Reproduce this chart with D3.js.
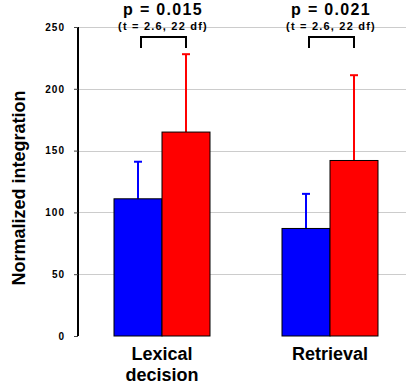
<!DOCTYPE html>
<html><head><meta charset="utf-8">
<script src="https://cdn.jsdelivr.net/npm/d3@7"></script>
<style>body{margin:0;background:#fff}svg{display:block}text{font-family:"Liberation Sans",Arial,sans-serif;font-weight:bold;fill:#000}</style>
</head><body><svg id="c" width="406" height="385"></svg>
<script>
const categories = [["Lexical","decision"],["Retrieval"]];
const seriesNames = ["Condition A","Condition B"];
const seriesColors = ["#0000ff","#ff0000"];
const meansA = [111, 87];
const meansB = [165, 142];
const errA = [30, 28];
const errB = [63, 69];
const yTicks = [0, 50, 100, 150, 200, 250];
const pLabels = ["p = 0.015", "p = 0.021"];
const tLabels = ["(t = 2.6, 22 df)", "(t = 2.6, 22 df)"];
const yTitle = "Normalized integration";

const svg = d3.select("#c");
const W = 406, H = 385;
const x = d3.scaleBand().domain(d3.range(categories.length)).range([78, 414]).paddingInner(0.4286).paddingOuter(0.2143);
const xs = d3.scaleBand().domain([0,1]).range([0, x.bandwidth()]);
const y = d3.scaleLinear().domain([0, 250]).range([336, 27]);

// gridlines
svg.append("g").selectAll("line").data(yTicks.filter(d => d > 0)).join("line")
  .attr("x1", 78).attr("x2", W).attr("y1", d => Math.round(y(d)) + 0.5).attr("y2", d => Math.round(y(d)) + 0.5)
  .attr("stroke", "#cccccc").attr("stroke-width", 1);

// y axis
const yAxis = d3.axisLeft(y).tickValues(yTicks).tickSize(4).tickPadding(9);
const ga = svg.append("g").attr("transform", "translate(78,0)").call(yAxis);
ga.select(".domain").attr("stroke", "#000").attr("stroke-width", 2).attr("d", `M0,${y(250)}V${y(0)}`);
ga.selectAll(".tick line").attr("stroke", "#444");
ga.selectAll(".tick text").style("font-size", "10px").style("letter-spacing", "1px").attr("fill", "#000");

svg.append("text").attr("transform", "translate(25,188) rotate(-90)").attr("text-anchor", "middle")
  .style("font-size", "18px").text(yTitle);

const series = [meansA, meansB];
const errs = [errA, errB];
categories.forEach((cat, i) => {
  const g = svg.append("g").attr("transform", `translate(${x(i)},0)`);
  series.forEach((vals, s) => {
    const cx = xs(s) + xs.bandwidth() / 2;
    g.append("line").attr("x1", cx).attr("x2", cx).attr("y1", y(vals[i])).attr("y2", y(vals[i] + errs[s][i]))
      .attr("stroke", seriesColors[s]).attr("stroke-width", 2);
    g.append("line").attr("x1", cx - 4).attr("x2", cx + 4).attr("y1", y(vals[i] + errs[s][i])).attr("y2", y(vals[i] + errs[s][i]))
      .attr("stroke", seriesColors[s]).attr("stroke-width", 2);
  });
  series.forEach((vals, s) => {
    g.append("rect").attr("x", xs(s)).attr("width", xs.bandwidth())
      .attr("y", y(vals[i])).attr("height", y(0) - y(vals[i]))
      .attr("fill", seriesColors[s]).attr("stroke", "#000").attr("stroke-width", 1);
  });
  // bracket
  const bx1 = xs(0) + xs.bandwidth() / 2 + 3, bx2 = xs(1) + xs.bandwidth() / 2;
  g.append("path").attr("d", `M${bx1},${y(233)}V${y(242)}H${bx2}V${y(233)}`)
    .attr("fill", "none").attr("stroke", "#000").attr("stroke-width", 2);
  const cx = x.bandwidth() / 2 + 1;
  g.append("text").attr("x", cx).attr("y", 15).attr("text-anchor", "middle")
    .style("font-size", "16px").style("letter-spacing", "1.3px").text(pLabels[i]);
  g.append("text").attr("x", cx).attr("y", 30).attr("text-anchor", "middle")
    .style("font-size", "11px").style("letter-spacing", "1.2px").text(tLabels[i]);
  cat.forEach((line, k) => {
    g.append("text").attr("x", x.bandwidth() / 2).attr("y", 360 + k * 21).attr("text-anchor", "middle")
      .style("font-size", "18px").text(line);
  });
});
</script></body></html>
